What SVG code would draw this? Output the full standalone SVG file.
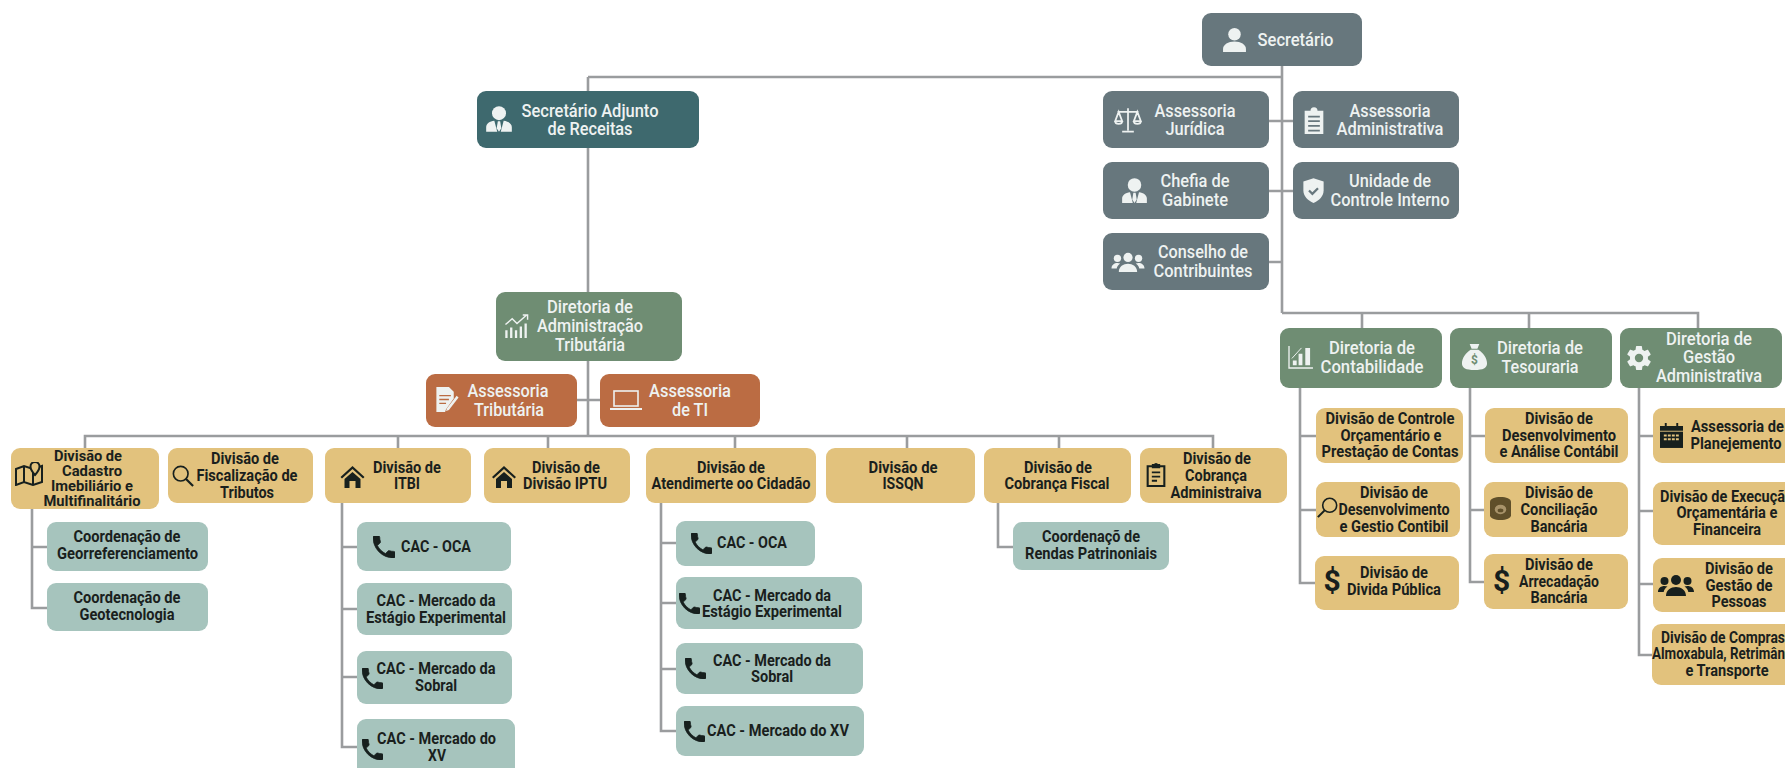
<svg xmlns="http://www.w3.org/2000/svg" width="1785" height="768" viewBox="0 0 1785 768">
<style>
text{font-family:Roboto,"Liberation Sans",sans-serif;font-weight:700;text-anchor:middle}
.w{font-size:17.5px;fill:#eef2f1;font-weight:500}
.d{font-size:16.5px;fill:#1a1f1d}
.c{font-size:14.5px}
.s{text-anchor:start}
.slate{fill:#67777d}.teal{fill:#3e696e}.green{fill:#6f8d73}.orange{fill:#bb6c43}.yel{fill:#e2c27d}.aqua{fill:#a6c4bd}
rect{rx:9px}
.cn{fill:none;stroke:#9a9c9e;stroke-width:2.6}
.iw{color:#eef2f1}.id{color:#17201e}
</style>
<defs>
<symbol id="person" viewBox="0 0 24 24"><circle cx="12" cy="7" r="6" fill="currentColor"/><path d="M1 24v-3c0-4 5-7 11-7s11 3 11 7v3z" fill="currentColor"/></symbol>
<symbol id="suit" viewBox="0 0 24 24"><circle cx="12" cy="7" r="6" fill="currentColor"/><path d="M1 23v-4c0-3 3-5 7-5.500l2.500 9.500zM23 23v-4c0-3-3-5-7-5.500l-2.500 9.500zM11 14h2l1 6-2 3-2-3z" fill="currentColor"/></symbol>
<symbol id="scale" viewBox="0 0 24 24"><path d="M12 2v19M7 22h10M3 5h18M4 5l-3 8h6zM20 5l-3 8h6zM1 13c0 3 6 3 6 0M17 13c0 3 6 3 6 0" fill="none" stroke="currentColor" stroke-width="1.500"/></symbol>
<symbol id="clipw" viewBox="3 0 18 24"><path d="M4 4h5a3 3 0 0 1 6 0h5v20H4z" fill="currentColor"/><path d="M7 9h10M7 13h10M7 17h10M7 21h10" stroke="#67777d" stroke-width="1.500"/></symbol>
<symbol id="clipd" viewBox="3 0 18 24"><path d="M4 4h16v19H4z" fill="none" stroke="currentColor" stroke-width="2"/><path d="M9 5V3h2a1 1 0 0 1 2 0h2v2z" fill="currentColor" stroke="currentColor" stroke-width="2"/><path d="M8 10h8M8 14h8M8 18h5" stroke="currentColor" stroke-width="1.800"/></symbol>
<symbol id="shield" viewBox="0 0 24 24"><path d="M12 1 3 4v8c0 5 4 9 9 11 5-2 9-6 9-11V4z" fill="currentColor"/><path d="M8 12l3 3 5-5" fill="none" stroke="#67777d" stroke-width="2"/></symbol>
<symbol id="group" viewBox="0 0 36 24"><circle cx="18" cy="7" r="5" fill="currentColor"/><circle cx="6.500" cy="8" r="4" fill="currentColor"/><circle cx="29.500" cy="8" r="4" fill="currentColor"/><path d="M8 23c0-6 5-9 10-9s10 3 10 9zM0 19c0-4 3-6 6.500-6 1 0 2 .2 3 .6C7 15.500 6 17 5.700 19zM36 19c0-4-3-6-6.500-6-1 0-2 .2-3 .6C29 15.500 30 17 30.300 19z" fill="currentColor"/></symbol>
<symbol id="trend" viewBox="0 0 26 26"><path d="M2 25v-8M7 25v-11M12 25v-8M17 25V13M22 25V10" stroke="currentColor" stroke-width="2.400" fill="none"/><path d="M1 11l7-6 5 5 10-9M19 1h5v5" stroke="currentColor" stroke-width="1.500" fill="none"/></symbol>
<symbol id="docp" viewBox="0 0 24 28"><path d="M1 1h13l5 5v7l-8 11-1 3H1z" fill="currentColor"/><path d="M4 10h12M4 14h10M4 18h7" stroke="#bb6c43" stroke-width="1.500"/><path d="M22 10l2 2-10 13-3 1 1-3z" fill="currentColor"/></symbol>
<symbol id="laptop" viewBox="0 0 32 20"><rect x="4" y="1" width="24" height="15" style="rx:0" fill="none" stroke="currentColor" stroke-width="1.600"/><path d="M0 19h32" stroke="currentColor" stroke-width="2"/></symbol>
<symbol id="map" viewBox="0 0 28 24"><path d="M1 7l8-3 9 3 9-3v16l-9 3-9-3-8 3zM9 4v16M18 7v16" fill="none" stroke="currentColor" stroke-width="2"/><circle cx="20" cy="5" r="5" fill="#e2c27d"/><path d="M20 0a4.500 4.500 0 0 1 4.500 4.500C24.500 8 20 13 20 13s-4.500-5-4.500-8.500A4.500 4.500 0 0 1 20 0z" fill="#e2c27d" stroke="currentColor" stroke-width="2"/></symbol>
<symbol id="mag" viewBox="0 0 24 24"><circle cx="9.500" cy="9.500" r="8" fill="none" stroke="currentColor" stroke-width="1.800"/><path d="M15 15l8 8" stroke="currentColor" stroke-width="2.400"/></symbol>
<symbol id="mag2" viewBox="0 0 24 24"><circle cx="14.500" cy="9.500" r="8" fill="none" stroke="currentColor" stroke-width="1.800"/><path d="M9 15l-8 8" stroke="currentColor" stroke-width="2.400"/></symbol>
<symbol id="home" viewBox="0 0 24 24"><path d="M12 1 0 12l1.500 1.500L12 4l10.500 9.500L24 12z" fill="currentColor"/><path d="M4 14l8-7 8 7v9h-5v-7H9v7H4z" fill="currentColor"/></symbol>
<symbol id="phone" viewBox="3 3 18 18"><path d="M6.600 10.800c1.400 2.800 3.800 5.100 6.600 6.600l2.200-2.200c.3-.3.7-.4 1-.2 1.100.4 2.300.6 3.600.6.600 0 1 .4 1 1V20c0 .6-.4 1-1 1C10.600 21 3 13.400 3 4c0-.6.4-1 1-1h3.500c.6 0 1 .4 1 1 0 1.300.2 2.500.6 3.600.1.300 0 .7-.2 1z" fill="currentColor" stroke="currentColor" stroke-width=".6"/></symbol>
<symbol id="bars" viewBox="0 0 26 24"><path d="M1 0v23h25" fill="none" stroke="currentColor" stroke-width="1.400"/><path d="M5 20v-5h4v5zM11 20V8h4v12zM18 20V2h5v18z" fill="currentColor"/><path d="M4 13 14 2" stroke="currentColor" stroke-width="1"/></symbol>
<symbol id="bag" viewBox="0 0 26 28"><path d="M8 1h10l-2 5H10zM9 7h8c5 3 9 9 9 14 0 5-4 7-13 7S0 26 0 21C0 16 4 10 9 7z" fill="currentColor"/></symbol>
<symbol id="gear" viewBox="2 2 20 20"><path d="M19.400 13c.04-.3.06-.65.06-1s-.02-.7-.07-1l2.100-1.600c.2-.15.25-.43.12-.65l-2-3.450c-.12-.22-.4-.3-.6-.22l-2.500 1c-.5-.4-1.080-.73-1.700-.98l-.37-2.650A.5.5 0 0 0 14 2h-4a.5.5 0 0 0-.5.42l-.37 2.650c-.6.25-1.170.58-1.700.98l-2.500-1a.5.5 0 0 0-.6.22l-2 3.450c-.12.23-.07.5.12.65L4.570 11c-.04.3-.07.66-.07 1s.02.7.07 1l-2.100 1.650c-.2.15-.25.43-.12.65l2 3.450c.12.22.4.3.6.22l2.500-1c.52.4 1.080.73 1.700.98l.37 2.650c.05.24.25.42.5.42h4c.25 0 .45-.18.5-.42l.37-2.650c.6-.25 1.170-.58 1.700-.98l2.500 1c.22.08.48 0 .6-.22l2-3.450a.5.5 0 0 0-.12-.65zM12 15.500a3.500 3.500 0 1 1 0-7 3.500 3.500 0 0 1 0 7z" fill="currentColor" fill-rule="evenodd"/></symbol>
<symbol id="cal" viewBox="0 0 24 26"><path d="M5 0h2v4H5zM17 0h2v4h-2zM0 3h24v5H0z" fill="currentColor"/><path d="M0 9h24v17H0z" fill="currentColor"/><path d="M4 13h16M4 17h16" stroke="#e2c27d" stroke-width="2" stroke-dasharray="3 1.200"/></symbol>
<symbol id="coin" viewBox="0 0 22 24"><path d="M0 5c0-3 5-5 11-5s11 2 11 5v14c0 3-5 5-11 5S0 22 0 19z" fill="#5f4f2a"/><ellipse cx="11" cy="13" rx="6" ry="5" fill="#a8936a"/><ellipse cx="11" cy="14" rx="3" ry="2" fill="#5f4f2a"/></symbol>
</defs>
<rect width="1785" height="768" fill="#fff" style="rx:0"/>
<g id="connectors" class="cn">
<path d="M1282 66V313M588 148V292M588 77H1282M588 77V91"/>
<path d="M1269 121H1293M1269 191H1293M1269 262H1282"/>
<path d="M1282 313H1698V328M1362 313V328M1529 313V328"/>
<path d="M588 361V436M577 400H600"/>
<path d="M85 448V436H1213V448M398 436V448M548 436V448M735 436V448M907 436V448M1059 436V448"/>
<path d="M32 509V608H47M32 547H47"/>
<path d="M342 503V747H357M342 547H357M342 609H357M342 677H357"/>
<path d="M661 503V731H676M661 543H676M661 603H676M661 669H676"/>
<path d="M998 503V547H1013"/>
<path d="M1300 388V583H1316M1300 436H1316M1300 510H1316"/>
<path d="M1470 388V582H1484M1470 436H1485M1470 510H1484"/>
<path d="M1639 388V655H1652M1639 436H1653M1639 511H1653M1639 584H1653"/>
</g>
<g id="secretario"><rect class="slate" x="1202" y="13" width="160" height="53"/><use class="iw" href="#person" x="1222" y="27" width="25" height="25"/><text class="w" x="1295.500" y="46" textLength="76" lengthAdjust="spacingAndGlyphs">Secretário</text></g>
<g id="assessoria-juridica"><rect class="slate" x="1103" y="91" width="166" height="57"/><use class="iw" href="#scale" x="1113" y="106" width="30" height="28"/><text class="w" x="1195" y="117" textLength="81" lengthAdjust="spacingAndGlyphs">Assessoria</text><text class="w" x="1195" y="135" textLength="59" lengthAdjust="spacingAndGlyphs">Jurídica</text></g>
<g id="assessoria-administrativa"><rect class="slate" x="1293" y="91" width="166" height="57"/><use class="iw" href="#clipw" x="1303" y="106" width="22" height="28"/><text class="w" x="1390" y="117" textLength="81" lengthAdjust="spacingAndGlyphs">Assessoria</text><text class="w" x="1390" y="135" textLength="107" lengthAdjust="spacingAndGlyphs">Administrativa</text></g>
<g id="chefia-gabinete"><rect class="slate" x="1103" y="162" width="166" height="57"/><use class="iw" href="#suit" x="1121" y="177" width="27" height="27"/><text class="w" x="1195" y="187" textLength="69" lengthAdjust="spacingAndGlyphs">Chefia de</text><text class="w" x="1195" y="206" textLength="66" lengthAdjust="spacingAndGlyphs">Gabinete</text></g>
<g id="controle-interno"><rect class="slate" x="1293" y="162" width="166" height="57"/><use class="iw" href="#shield" x="1300" y="177" width="27" height="27"/><text class="w" x="1390" y="187" textLength="82" lengthAdjust="spacingAndGlyphs">Unidade de</text><text class="w" x="1390" y="206" textLength="119" lengthAdjust="spacingAndGlyphs">Controle Interno</text></g>
<g id="conselho"><rect class="slate" x="1103" y="233" width="166" height="57"/><use class="iw" href="#group" x="1111" y="251" width="34" height="22"/><text class="w" x="1203" y="258" textLength="90" lengthAdjust="spacingAndGlyphs">Conselho de</text><text class="w" x="1203" y="277" textLength="99" lengthAdjust="spacingAndGlyphs">Contribuintes</text></g>
<g id="adjunto"><rect class="teal" x="477" y="91" width="222" height="57"/><use class="iw" href="#suit" x="485" y="105" width="28" height="28"/><text class="w" x="590" y="117" textLength="137" lengthAdjust="spacingAndGlyphs">Secretário Adjunto</text><text class="w" x="590" y="135" textLength="85" lengthAdjust="spacingAndGlyphs">de Receitas</text></g>
<g id="dir-administracao"><rect class="green" x="496" y="292" width="186" height="69"/><use class="iw" href="#trend" x="504" y="314" width="26" height="25"/><text class="w" x="590" y="313" textLength="86" lengthAdjust="spacingAndGlyphs">Diretoria de</text><text class="w" x="590" y="332" textLength="106" lengthAdjust="spacingAndGlyphs">Administração</text><text class="w" x="590" y="351" textLength="70" lengthAdjust="spacingAndGlyphs">Tributária</text></g>
<g id="assessoria-tributaria"><rect class="orange" x="426" y="374" width="151" height="53"/><use class="iw" href="#docp" x="435" y="386" width="24" height="27"/><text class="w" x="508" y="397" textLength="81" lengthAdjust="spacingAndGlyphs">Assessoria</text><text class="w" x="509" y="416" textLength="70" lengthAdjust="spacingAndGlyphs">Tributária</text></g>
<g id="assessoria-ti"><rect class="orange" x="600" y="374" width="160" height="53"/><use class="iw" href="#laptop" x="610" y="390" width="32" height="20"/><text class="w" x="690" y="397" textLength="82" lengthAdjust="spacingAndGlyphs">Assessoria</text><text class="w" x="690" y="416" textLength="36" lengthAdjust="spacingAndGlyphs">de TI</text></g>
<g id="div-cadastro"><rect class="yel" x="11" y="448" width="148" height="61"/><use class="id" href="#map" x="15" y="462" width="28" height="24"/><text class="d c" x="88" y="461" textLength="68" lengthAdjust="spacingAndGlyphs">Divisão de</text><text class="d c" x="92" y="476" textLength="60" lengthAdjust="spacingAndGlyphs">Cadastro</text><text class="d c" x="92" y="491" textLength="82" lengthAdjust="spacingAndGlyphs">Imebiliário e</text><text class="d c" x="92" y="506" textLength="97" lengthAdjust="spacingAndGlyphs">Multifinalitário</text></g>
<g id="div-fiscalizacao"><rect class="yel" x="168" y="448" width="145" height="55"/><use class="id" href="#mag" x="172" y="465" width="22" height="22"/><text class="d" x="245" y="464" textLength="68" lengthAdjust="spacingAndGlyphs">Divisão de</text><text class="d" x="247" y="481" textLength="101" lengthAdjust="spacingAndGlyphs">Fiscalização de</text><text class="d" x="247" y="498" textLength="54" lengthAdjust="spacingAndGlyphs">Tributos</text></g>
<g id="div-itbi"><rect class="yel" x="325" y="448" width="146" height="55"/><use class="id" href="#home" x="340" y="465" width="25" height="24"/><text class="d" x="407" y="473" textLength="68" lengthAdjust="spacingAndGlyphs">Divisão de</text><text class="d" x="407" y="489" textLength="26" lengthAdjust="spacingAndGlyphs">ITBI</text></g>
<g id="div-iptu"><rect class="yel" x="484" y="448" width="146" height="55"/><use class="id" href="#home" x="492" y="465" width="24" height="24"/><text class="d" x="566" y="473" textLength="68" lengthAdjust="spacingAndGlyphs">Divisão de</text><text class="d" x="565" y="489" textLength="84" lengthAdjust="spacingAndGlyphs">Divisão IPTU</text></g>
<g id="div-atendimento"><rect class="yel" x="646" y="448" width="170" height="55"/><text class="d" x="731" y="473" textLength="68" lengthAdjust="spacingAndGlyphs">Divisão de</text><text class="d" x="731" y="489" textLength="159" lengthAdjust="spacingAndGlyphs">Atendimerte oo Cidadão</text></g>
<g id="div-issqn"><rect class="yel" x="826" y="448" width="149" height="55"/><text class="d" x="903" y="473" textLength="69" lengthAdjust="spacingAndGlyphs">Divisão de</text><text class="d" x="903" y="489" textLength="41" lengthAdjust="spacingAndGlyphs">ISSQN</text></g>
<g id="div-cobranca-fiscal"><rect class="yel" x="984" y="448" width="147" height="55"/><text class="d" x="1058" y="473" textLength="68" lengthAdjust="spacingAndGlyphs">Divisão de</text><text class="d" x="1057" y="489" textLength="105" lengthAdjust="spacingAndGlyphs">Cobrança Fiscal</text></g>
<g id="div-cobranca-adm"><rect class="yel" x="1140" y="448" width="147" height="55"/><use class="id" href="#clipd" x="1145" y="462" width="22" height="25"/><text class="d" x="1217" y="464" textLength="68" lengthAdjust="spacingAndGlyphs">Divisão de</text><text class="d" x="1216" y="481" textLength="62" lengthAdjust="spacingAndGlyphs">Cobrança</text><text class="d" x="1216" y="498" textLength="91" lengthAdjust="spacingAndGlyphs">Administraiva</text></g>
<g id="coord-georref"><rect class="aqua" x="47" y="522" width="161" height="49"/><text class="d" x="127" y="542" textLength="107" lengthAdjust="spacingAndGlyphs">Coordenação de</text><text class="d" x="127.500" y="559" textLength="141" lengthAdjust="spacingAndGlyphs">Georreferenciamento</text></g>
<g id="coord-geotec"><rect class="aqua" x="47" y="583" width="161" height="48"/><text class="d" x="127" y="603" textLength="107" lengthAdjust="spacingAndGlyphs">Coordenação de</text><text class="d" x="127" y="620" textLength="95" lengthAdjust="spacingAndGlyphs">Geotecnologia</text></g>
<g id="itbi-oca"><rect class="aqua" x="357" y="522" width="154" height="49"/><use class="id" href="#phone" x="373" y="536" width="22" height="22"/><text class="d" x="436" y="552" textLength="70" lengthAdjust="spacingAndGlyphs">CAC - OCA</text></g>
<g id="itbi-estagio"><rect class="aqua" x="357" y="583" width="155" height="52"/><text class="d" x="436" y="606" textLength="119" lengthAdjust="spacingAndGlyphs">CAC - Mercado da</text><text class="d" x="436" y="623" textLength="140" lengthAdjust="spacingAndGlyphs">Estágio Experimental</text></g>
<g id="itbi-sobral"><rect class="aqua" x="357" y="651" width="155" height="53"/><use class="id" href="#phone" x="362" y="668" width="21" height="21"/><text class="d" x="436" y="674" textLength="119" lengthAdjust="spacingAndGlyphs">CAC - Mercado da</text><text class="d" x="436" y="691" textLength="42" lengthAdjust="spacingAndGlyphs">Sobral</text></g>
<g id="itbi-xv"><rect class="aqua" x="357" y="719" width="158" height="60"/><use class="id" href="#phone" x="362" y="739" width="21" height="21"/><text class="d" x="436.500" y="744" textLength="119" lengthAdjust="spacingAndGlyphs">CAC - Mercado do</text><text class="d" x="437" y="761" textLength="18" lengthAdjust="spacingAndGlyphs">XV</text></g>
<g id="at-oca"><rect class="aqua" x="676" y="521" width="139" height="45"/><use class="id" href="#phone" x="691" y="533" width="21" height="21"/><text class="d" x="752" y="548" textLength="70" lengthAdjust="spacingAndGlyphs">CAC - OCA</text></g>
<g id="at-estagio"><rect class="aqua" x="676" y="577" width="186" height="52"/><use class="id" href="#phone" x="679" y="593" width="21" height="21"/><text class="d" x="772" y="601" textLength="118" lengthAdjust="spacingAndGlyphs">CAC - Mercado da</text><text class="d" x="772" y="617" textLength="140" lengthAdjust="spacingAndGlyphs">Estágio Experimental</text></g>
<g id="at-sobral"><rect class="aqua" x="676" y="643" width="187" height="51"/><use class="id" href="#phone" x="685" y="658" width="21" height="21"/><text class="d" x="772" y="666" textLength="118" lengthAdjust="spacingAndGlyphs">CAC - Mercado da</text><text class="d" x="772" y="682" textLength="42" lengthAdjust="spacingAndGlyphs">Sobral</text></g>
<g id="at-xv"><rect class="aqua" x="676" y="706" width="188" height="50"/><use class="id" href="#phone" x="684" y="721" width="21" height="21"/><text class="d" x="778" y="736" textLength="142" lengthAdjust="spacingAndGlyphs">CAC - Mercado do XV</text></g>
<g id="coord-rendas"><rect class="aqua" x="1013" y="522" width="156" height="48"/><text class="d" x="1091" y="542" textLength="98" lengthAdjust="spacingAndGlyphs">Coordenaçõ de</text><text class="d" x="1091" y="559" textLength="132" lengthAdjust="spacingAndGlyphs">Rendas Patrinoniais</text></g>
<g id="dir-contabilidade"><rect class="green" x="1280" y="328" width="162" height="60"/><use class="iw" href="#bars" x="1288" y="346" width="25" height="23"/><text class="w" x="1372" y="354" textLength="86" lengthAdjust="spacingAndGlyphs">Diretoria de</text><text class="w" x="1372" y="373" textLength="103" lengthAdjust="spacingAndGlyphs">Contabilidade</text></g>
<g id="dir-tesouraria"><rect class="green" x="1450" y="328" width="162" height="60"/><use class="iw" href="#bag" x="1461" y="343" width="27" height="27"/><text x="1474.500" y="364" style="font-size:12px;fill:#6f8d73">$</text><text class="w" x="1540" y="354" textLength="86" lengthAdjust="spacingAndGlyphs">Diretoria de</text><text class="w" x="1540" y="373" textLength="77" lengthAdjust="spacingAndGlyphs">Tesouraria</text></g>
<g id="dir-gestao"><rect class="green" x="1620" y="328" width="162" height="60"/><use class="iw" href="#gear" x="1627" y="346" width="24" height="24"/><text class="w" x="1709" y="345" textLength="86" lengthAdjust="spacingAndGlyphs">Diretoria de</text><text class="w" x="1709" y="363" textLength="52" lengthAdjust="spacingAndGlyphs">Gestão</text><text class="w" x="1709" y="382" textLength="106" lengthAdjust="spacingAndGlyphs">Administrativa</text></g>
<g id="div-controle"><rect class="yel" x="1316" y="408" width="147" height="55"/><text class="d" x="1390" y="424" textLength="129" lengthAdjust="spacingAndGlyphs">Divisão de Controle</text><text class="d" x="1391" y="441" textLength="101" lengthAdjust="spacingAndGlyphs">Orçamentário e</text><text class="d" x="1390" y="457" textLength="137" lengthAdjust="spacingAndGlyphs">Prestação de Contas</text></g>
<g id="div-desenv-gestio"><rect class="yel" x="1316" y="482" width="144" height="55"/><use class="id" href="#mag2" x="1317" y="497" width="21" height="21"/><text class="d" x="1394" y="498" textLength="68" lengthAdjust="spacingAndGlyphs">Divisão de</text><text class="d" x="1394" y="515" textLength="111" lengthAdjust="spacingAndGlyphs">Desenvolvimento</text><text class="d" x="1394" y="532" textLength="109" lengthAdjust="spacingAndGlyphs">e Gestio Contibil</text></g>
<g id="div-divida"><rect class="yel" x="1315" y="556" width="144" height="54"/><text x="1332" y="591" style="font-size:30px;fill:#17201e">$</text><text class="d" x="1394" y="578" textLength="68" lengthAdjust="spacingAndGlyphs">Divisão de</text><text class="d" x="1394" y="595" textLength="94" lengthAdjust="spacingAndGlyphs">Divida Pública</text></g>
<g id="div-desenv-analise"><rect class="yel" x="1485" y="408" width="143" height="55"/><text class="d" x="1559" y="424" textLength="68" lengthAdjust="spacingAndGlyphs">Divisão de</text><text class="d" x="1559" y="441" textLength="114" lengthAdjust="spacingAndGlyphs">Desenvolvimento</text><text class="d" x="1559" y="457" textLength="119" lengthAdjust="spacingAndGlyphs">e Análise Contábil</text></g>
<g id="div-conciliacao"><rect class="yel" x="1484" y="482" width="144" height="55"/><use href="#coin" x="1490" y="497" width="21" height="23"/><text class="d" x="1559" y="498" textLength="68" lengthAdjust="spacingAndGlyphs">Divisão de</text><text class="d" x="1559" y="515" textLength="77" lengthAdjust="spacingAndGlyphs">Conciliação</text><text class="d" x="1559" y="532" textLength="57" lengthAdjust="spacingAndGlyphs">Bancária</text></g>
<g id="div-arrecadacao"><rect class="yel" x="1484" y="554" width="144" height="55"/><text x="1501.500" y="591" style="font-size:30px;fill:#17201e">$</text><text class="d" x="1559" y="570" textLength="68" lengthAdjust="spacingAndGlyphs">Divisão de</text><text class="d" x="1559" y="587" textLength="80" lengthAdjust="spacingAndGlyphs">Arrecadação</text><text class="d" x="1559" y="603" textLength="57" lengthAdjust="spacingAndGlyphs">Bancária</text></g>
<g id="ass-planejamento"><rect class="yel" x="1653" y="408" width="160" height="55"/><use class="id" href="#cal" x="1660" y="423" width="23" height="25"/><text class="d" x="1737.500" y="432" textLength="93" lengthAdjust="spacingAndGlyphs">Assessoria de</text><text class="d" x="1736" y="449" textLength="91" lengthAdjust="spacingAndGlyphs">Planejemento</text></g>
<g id="div-execucao"><rect class="yel" x="1653" y="482" width="160" height="63"/><text class="d s" x="1660" y="502" textLength="125" lengthAdjust="spacingAndGlyphs">Divisão de Execuçã</text><text class="d" x="1727" y="518" textLength="101" lengthAdjust="spacingAndGlyphs">Orçamentária e</text><text class="d" x="1727" y="535" textLength="68" lengthAdjust="spacingAndGlyphs">Financeira</text></g>
<g id="div-pessoas"><rect class="yel" x="1653" y="558" width="160" height="54"/><use class="id" href="#group" x="1657" y="573" width="38" height="24"/><text class="d" x="1739" y="574" textLength="68" lengthAdjust="spacingAndGlyphs">Divisão de</text><text class="d" x="1739" y="591" textLength="67" lengthAdjust="spacingAndGlyphs">Gestão de</text><text class="d" x="1739" y="607" textLength="55" lengthAdjust="spacingAndGlyphs">Pessoas</text></g>
<g id="div-compras"><rect class="yel" x="1652" y="624" width="160" height="61"/><text class="d s" x="1661" y="643" textLength="124" lengthAdjust="spacingAndGlyphs">Divisão de Compras</text><text class="d s" x="1652" y="659" textLength="133" lengthAdjust="spacingAndGlyphs">Almoxabula, Retrimân</text><text class="d" x="1727" y="676" textLength="83" lengthAdjust="spacingAndGlyphs">e Transporte</text></g>
</svg>
